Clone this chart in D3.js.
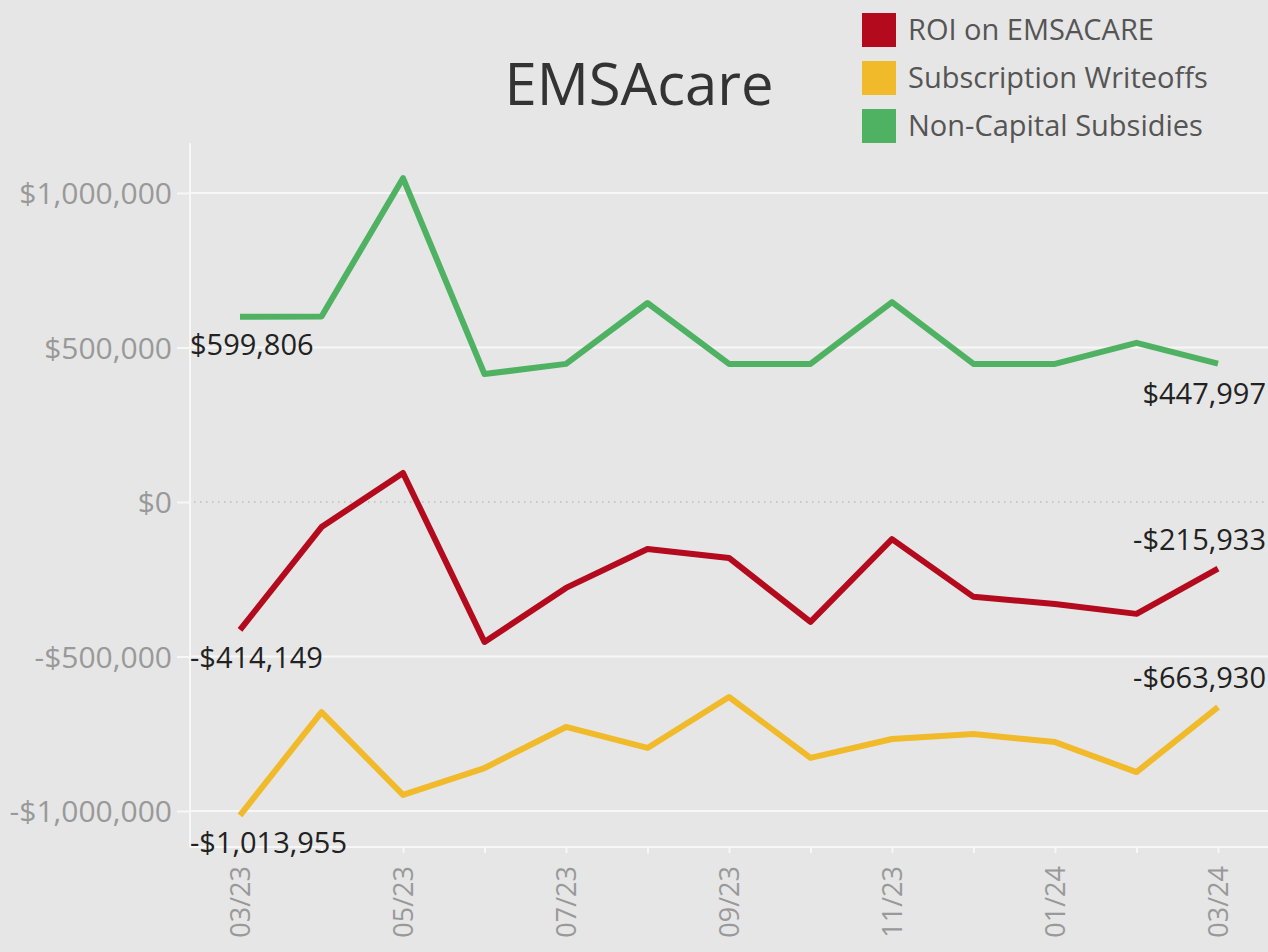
<!DOCTYPE html>
<html>
<head>
<meta charset="utf-8">
<script src="https://cdn.jsdelivr.net/npm/d3@7"></script>
<style>
    body { margin: 0; background: #e6e6e6; }
    #chart-area { width: 1268px; height: 952px; }
    text { font-family: "Open Sans", sans-serif; }
    .axis path, .axis line { stroke: #f7f7f7; stroke-width: 2; }
    .axis text { fill: #999; }
</style>
</head>
<body>
<div id="chart-area"></div>
<script>

// months on the x axis
const months = ["03/23", "04/23", "05/23", "06/23", "07/23", "08/23", "09/23",
    "10/23", "11/23", "12/23", "01/24", "02/24", "03/24"];

// series values (USD)
const roiValues = [-414149, -81000, 94000, -453000, -278000, -152000, -181000,
    -388000, -120000, -307000, -330000, -362000, -215933];
const writeoffValues = [-1013955, -680000, -948000, -861000, -728000, -796000, -631000,
    -828000, -767000, -751000, -777000, -874000, -663930];
const subsidyValues = [599806, 600000, 1048000, 414000, 447000, 644000, 447000,
    447000, 647000, 447000, 447000, 515000, 447997];

const seriesNames = ["ROI on EMSACARE", "Subscription Writeoffs", "Non-Capital Subsidies"];
const seriesColors = ["#b30a1d", "#f0ba2a", "#4fb262"];

const yTickValues = [1000000, 500000, 0, -500000, -1000000];
const xTickLabels = ["03/23", "05/23", "07/23", "09/23", "11/23", "01/24", "03/24"];

const money = v => (v < 0 ? "-" : "") + "$" + d3.format(",")(Math.abs(Math.round(v)));

class LineChart {

    constructor(parentElement){
        this.parentElement = parentElement;
        this.initVis();
    }

    initVis(){
        let vis = this;

        vis.margin = {top: 143, right: 0, bottom: 105, left: 190};
        vis.width = 1268 - vis.margin.left - vis.margin.right;
        vis.height = 952 - vis.margin.top - vis.margin.bottom;

        vis.root = d3.select("#" + vis.parentElement).append("svg")
            .attr("width", 1268)
            .attr("height", 952);

        vis.root.append("rect")
            .attr("width", 1268)
            .attr("height", 952)
            .attr("fill", "#e6e6e6");

        vis.svg = vis.root.append("g")
            .attr("transform", `translate(${vis.margin.left}, ${vis.margin.top})`);

        // title
        vis.root.append("text")
            .attr("x", 639)
            .attr("y", 105)
            .attr("text-anchor", "middle")
            .attr("font-size", 58)
            .attr("fill", "#333")
            .text("EMSAcare");

        vis.x = d3.scalePoint()
            .domain(months)
            .range([50, 1028]);

        vis.y = d3.scaleLinear()
            .domain([-1116500, 1161800])
            .range([vis.height, 0]);

        vis.wrangleData();
    }

    wrangleData(){
        let vis = this;

        vis.displayData = [roiValues, writeoffValues, subsidyValues].map((vals, i) => ({
            name: seriesNames[i],
            color: seriesColors[i],
            values: vals.map((v, j) => ({month: months[j], val: v}))
        }));

        vis.updateVis();
    }

    updateVis(){
        let vis = this;

        // gridlines
        vis.svg.append("g")
            .selectAll(".grid")
            .data(yTickValues.filter(d => d !== 0))
            .join("line")
            .attr("class", "grid")
            .attr("x1", 0)
            .attr("x2", vis.width)
            .attr("y1", d => vis.y(d))
            .attr("y2", d => vis.y(d))
            .attr("stroke", "#f7f7f7")
            .attr("stroke-width", 2);

        // zero line
        vis.svg.append("line")
            .attr("x1", 4)
            .attr("x2", vis.width)
            .attr("y1", vis.y(0))
            .attr("y2", vis.y(0))
            .attr("stroke", "#bdbdbd")
            .attr("stroke-width", 1.5)
            .attr("stroke-dasharray", "1.5,4.5");

        // axes
        vis.yAxis = d3.axisLeft(vis.y)
            .tickValues(yTickValues)
            .tickFormat(money)
            .tickSize(13)
            .tickPadding(5);

        vis.svg.append("g")
            .attr("class", "y-axis axis")
            .call(vis.yAxis)
            .call(g => g.select(".domain").attr("d", `M0,0V${vis.height}`))
            .selectAll("text")
            .attr("font-size", 30)
            .attr("dy", "0.36em");

        vis.xAxis = d3.axisBottom(vis.x)
            .tickSize(6)
            .tickFormat(d => xTickLabels.includes(d) ? d : "");

        vis.svg.append("g")
            .attr("class", "x-axis axis")
            .attr("transform", `translate(0, ${vis.height})`)
            .call(vis.xAxis)
            .call(g => g.select(".domain").attr("d", `M0,0H${vis.width}`))
            .selectAll("text")
            .attr("font-size", 27)
            .attr("transform", "rotate(-90)")
            .attr("text-anchor", "end")
            .attr("x", -19)
            .attr("y", 0)
            .attr("dy", "0.36em");

        // lines
        vis.line = d3.line()
            .x(d => vis.x(d.month))
            .y(d => vis.y(d.val));

        vis.svg.selectAll(".series")
            .data(vis.displayData)
            .join("path")
            .attr("class", "series")
            .attr("d", d => vis.line(d.values))
            .attr("fill", "none")
            .attr("stroke", d => d.color)
            .attr("stroke-width", 6)
            .attr("stroke-linejoin", "round");

        // end labels: below or above the point
        let labels = [];
        vis.displayData.forEach((s, i) => {
            let first = s.values[0];
            let last = s.values[s.values.length - 1];
            labels.push({val: first.val, x: 0, anchor: "start", dy: 38});
            labels.push({val: last.val, x: vis.width - 2, anchor: "end", dy: i === 2 ? 40 : -19});
        });

        vis.svg.selectAll(".end-label")
            .data(labels)
            .join("text")
            .attr("class", "end-label")
            .attr("x", d => d.x)
            .attr("y", d => vis.y(d.val) + d.dy)
            .attr("text-anchor", d => d.anchor)
            .attr("font-size", 29)
            .attr("fill", "#222")
            .text(d => money(d.val));

        // legend
        let legend = vis.root.append("g")
            .attr("transform", "translate(862, 13)")
            .selectAll(".legend")
            .data(vis.displayData)
            .join("g")
            .attr("class", "legend")
            .attr("transform", (d, i) => `translate(0, ${i * 48})`);

        legend.append("rect")
            .attr("width", 34)
            .attr("height", 34)
            .attr("fill", d => d.color);

        legend.append("text")
            .attr("x", 46)
            .attr("y", 17)
            .attr("dy", "0.36em")
            .attr("font-size", 29)
            .attr("fill", "#555")
            .text(d => d.name);
    }
}

new LineChart("chart-area");
</script>
</body>
</html>
